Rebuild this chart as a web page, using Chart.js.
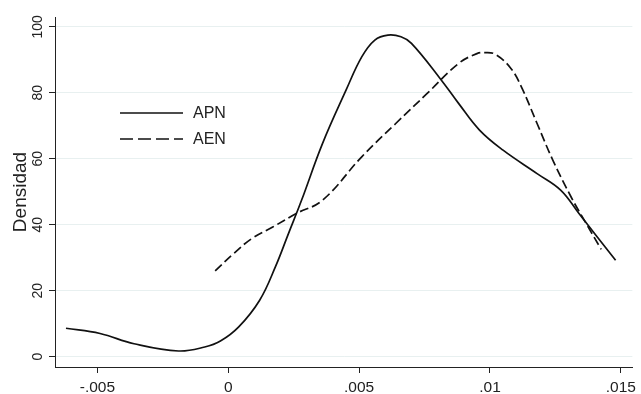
<!DOCTYPE html>
<html>
<head>
<meta charset="utf-8">
<script src="https://cdn.jsdelivr.net/npm/chart.js@4.4.0/dist/chart.umd.min.js"></script>
<style>
  html, body { margin: 0; padding: 0; background: #fff; }
  #wrap { width: 641px; height: 394px; position: relative; }
</style>
</head>
<body>
<div id="wrap"><canvas id="chart"></canvas></div>
<script>
// APN density (solid line)
const apnX = [-0.0062, -0.0049, -0.0036, -0.0019, -0.0009, -0.0003, 0.0004, 0.0012, 0.0018, 0.0023,
              0.0028, 0.0036, 0.0045, 0.0051, 0.0056, 0.0061, 0.0066, 0.0070, 0.0081, 0.0088,
              0.0096, 0.0105, 0.0118, 0.0127, 0.0134, 0.0148];
const apnY = [8.6, 7.0, 3.9, 1.7, 2.9, 4.7, 9.0, 17.1, 27.2, 37.3,
              47.4, 64.6, 80.8, 90.9, 96.0, 97.5, 97.0, 95.0, 84.3, 76.8,
              68.7, 62.6, 55.5, 50.5, 43.4, 29.2];

// AEN density (dashed line)
const aenX = [-0.0005, 0.0002, 0.0009, 0.0017, 0.0026, 0.0036, 0.0051, 0.0064, 0.0076, 0.0088,
              0.0095, 0.0098, 0.0102, 0.0108, 0.0112, 0.0118, 0.0124, 0.0131, 0.0136, 0.01425];
const aenY = [26.0, 31.2, 35.8, 39.3, 43.4, 47.4, 60.6, 70.7, 79.8, 88.9,
              91.9, 92.2, 91.7, 87.4, 81.8, 70.7, 59.6, 48.4, 41.4, 32.5];

const xTicks = [-0.005, 0, 0.005, 0.01, 0.015];
const yTicks = [0, 20, 40, 60, 80, 100];

const FONT = 'Liberation Sans, Arial, sans-serif';

function toPoints(xs, ys) {
    return xs.map((x, i) => ({ x: x, y: ys[i] }));
}

// Stata style number: -.005, 0, .01
function stataNum(v) {
    if (v === 0) return '0';
    return String(v).replace('0.', '.');
}

// y tick labels drawn rotated, plus the small legend inside the plot
const extras = {
    id: 'extras',
    afterDraw(chart) {
        const ctx = chart.ctx;
        const ys = chart.scales.y;
        const area = chart.chartArea;
        ctx.save();
        ctx.fillStyle = '#222';
        ctx.font = '14px ' + FONT;
        ctx.textAlign = 'center';
        ctx.textBaseline = 'alphabetic';
        ys.ticks.forEach(t => {
            const py = ys.getPixelForValue(t.value);
            ctx.save();
            ctx.translate(ys.right - 13, py);
            ctx.rotate(-Math.PI / 2);
            ctx.fillText(stataNum(t.value), 0, 0);
            ctx.restore();
        });

        // legend
        const lx = area.left + 65;
        const ly = area.top + 96;
        ctx.font = '16px ' + FONT;
        chart.data.datasets.forEach((ds, i) => {
            const yy = ly + i * 26;
            ctx.strokeStyle = ds.borderColor;
            ctx.lineWidth = ds.borderWidth;
            ctx.setLineDash(i === 0 ? [] : [13, 5]);
            ctx.beginPath();
            ctx.moveTo(lx, yy);
            ctx.lineTo(lx + 63, yy);
            ctx.stroke();
            ctx.setLineDash([]);
            ctx.textAlign = 'left';
            ctx.textBaseline = 'middle';
            ctx.fillText(ds.label, lx + 73, yy + 1);
        });
        ctx.restore();
    }
};

const ctx = document.getElementById('chart').getContext('2d');
new Chart(ctx, {
    type: 'line',
    data: {
        datasets: [{
            label: 'APN',
            data: toPoints(apnX, apnY),
            borderColor: '#111',
            borderWidth: 1.7,
            pointRadius: 0,
            fill: false,
            tension: 0.4
        }, {
            label: 'AEN',
            data: toPoints(aenX, aenY),
            borderColor: '#111',
            borderWidth: 1.7,
            borderDash: [9, 4],
            pointRadius: 0,
            fill: false,
            tension: 0.4
        }]
    },
    options: {
        responsive: true,
        maintainAspectRatio: false,
        animation: false,
        devicePixelRatio: 1,
        layout: { padding: { left: 0, top: 17, right: 4, bottom: 0 } },
        plugins: {
            legend: { display: false },
            tooltip: { enabled: false }
        },
        scales: {
            x: {
                type: 'linear',
                min: -0.00662,
                max: 0.01544,
                afterBuildTicks: s => { s.ticks = xTicks.map(v => ({ value: v })); },
                afterFit: s => { s.height = 27; },
                border: { display: true, color: '#222', width: 1 },
                grid: { drawOnChartArea: false, tickColor: '#222', tickLength: 6 },
                ticks: {
                    color: '#222',
                    font: { family: FONT, size: 15.5 },
                    padding: 5,
                    maxRotation: 0,
                    callback: v => stataNum(v)
                }
            },
            y: {
                type: 'linear',
                min: -3.16,
                max: 103,
                afterBuildTicks: s => { s.ticks = yTicks.map(v => ({ value: v })); },
                afterFit: s => { s.width = 55; },
                border: { display: true, color: '#222', width: 1 },
                grid: { color: '#e8f0f0', lineWidth: 1, tickColor: '#222', tickLength: 6 },
                ticks: { color: 'rgba(0,0,0,0)', font: { family: FONT, size: 14 } },
                title: {
                    display: true,
                    text: 'Densidad',
                    color: '#222',
                    font: { family: FONT, size: 19 },
                    padding: { top: 9, bottom: 0 }
                }
            }
        }
    },
    plugins: [extras]
});
</script>
</body>
</html>
